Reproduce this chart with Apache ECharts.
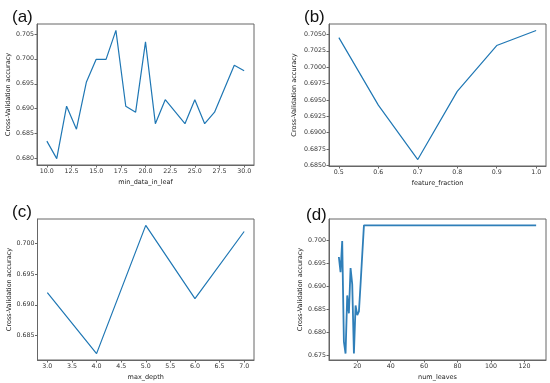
<!DOCTYPE html>
<html>
<head>
<meta charset="utf-8">
<script src="https://cdn.jsdelivr.net/npm/echarts@6/dist/echarts.min.js"></script>
<style>
html,body{margin:0;padding:0;background:#fff;}
#chart{width:550px;height:383px;}
</style>
</head>
<body>
<div id="chart"></div>
<script>
// ---- data ----
var minDataInLeaf = [10,11,12,13,14,15,16,17,18,19,20,21,22,23,24,25,26,27,28,29,30];
var accMinData = [0.6835,0.6800,0.6905,0.6859,0.6953,0.6999,0.6999,0.7057,0.6905,0.6893,0.7034,0.6870,0.6918,0.6894,0.6870,0.6918,0.6870,0.6893,0.6940,0.6987,0.6976];

var featureFraction = [0.5,0.6,0.7,0.8,0.9,1.0];
var accFeature = [0.7045,0.6942,0.6859,0.6963,0.7033,0.7056];

var maxDepth = [3,4,5,6,7];
var accDepth = [0.692,0.682,0.703,0.691,0.702];

var numLeaves = [9,10,11,12,13,14,15,16,17,18,19,20,21,22,23,24,127];
var accLeaves = [0.6964,0.6931,0.6999,0.6779,0.6753,0.6880,0.6841,0.6940,0.6904,0.6753,0.6858,0.6837,0.6845,0.6906,0.6970,0.7033,0.7033];

// ---- tick values ----
var ticksXa = [10,12.5,15,17.5,20,22.5,25,27.5,30];
var ticksYa = [0.680,0.685,0.690,0.695,0.700,0.705];
var ticksXb = [0.5,0.6,0.7,0.8,0.9,1.0];
var ticksYb = [0.6850,0.6875,0.6900,0.6925,0.6950,0.6975,0.7000,0.7025,0.7050];
var ticksXc = [3,3.5,4,4.5,5,5.5,6,6.5,7];
var ticksYc = [0.685,0.690,0.695,0.700];
var ticksXd = [20,40,60,80,100,120];
var ticksYd = [0.675,0.680,0.685,0.690,0.695,0.700];

var panelLabels = ['(a)','(b)','(c)','(d)'];
var xNames = ['min_data_in_leaf','feature_fraction','max_depth','num_leaves'];
var yName = 'Cross-Validation accuracy';

function pairs(xs, ys){ return xs.map(function(x,i){ return [x, ys[i]]; }); }
function limits(arr){
  var mn = Math.min.apply(null,arr), mx = Math.max.apply(null,arr);
  var m = (mx-mn)*0.05;
  return [mn-m, mx+m];
}

var FONT = 'DejaVu Sans';
var AX = '#666';

function xAxis(idx, ticks, xs, dec, gap){
  var lim = limits(xs);
  return {
    type:'value', gridIndex: idx, min: lim[0], max: lim[1],
    name: xNames[idx], nameLocation:'middle', nameGap: gap,
    nameTextStyle:{fontFamily:FONT,fontSize:6.5,color:'#222'},
    axisLine:{show:true,onZero:false,lineStyle:{color:AX,width:1}},
    axisTick:{show:true,inside:false,length:2.5,lineStyle:{color:AX},customValues:ticks},
    axisLabel:{fontFamily:FONT,fontSize:6.3,color:'#333',margin:3,customValues:ticks,
      formatter:function(v){return v.toFixed(dec);}},
    splitLine:{show:false}
  };
}
function yAxis(idx, ticks, ys, dec, gap){
  var lim = limits(ys);
  return {
    type:'value', gridIndex: idx, min: lim[0], max: lim[1],
    name: yName, nameLocation:'middle', nameGap: gap, nameRotate: 90,
    nameTextStyle:{fontFamily:FONT,fontSize:6.5,color:'#222'},
    axisLine:{show:true,onZero:false,lineStyle:{color:AX,width:1}},
    axisTick:{show:true,inside:false,length:2.5,lineStyle:{color:AX},customValues:ticks},
    axisLabel:{fontFamily:FONT,fontSize:6.3,color:'#333',margin:3,customValues:ticks,
      formatter:function(v){return v.toFixed(dec);}},
    splitLine:{show:false}
  };
}

var grids = [
  {left:37, top:24, width:217, height:141},
  {left:329, top:24, width:217, height:142},
  {left:37.5, top:219, width:216.5, height:141},
  {left:329, top:219, width:217, height:141}
].map(function(g){ g.show=true; g.borderColor=AX; g.borderWidth=1; g.backgroundColor='#fff'; g.containLabel=false; return g; });

var titlePos = [[7,4],[299,4],[7,199],[301,202]];

var option = {
  animation:false,
  backgroundColor:'#fff',
  title: panelLabels.map(function(t,i){
    return {text:t,left:titlePos[i][0],top:titlePos[i][1],
      textStyle:{fontFamily:'Liberation Sans',fontSize:17,fontWeight:'normal',color:'#111'}};
  }),
  grid: grids,
  xAxis:[
    xAxis(0,ticksXa,minDataInLeaf,1,14),
    xAxis(1,ticksXb,featureFraction,1,14),
    xAxis(2,ticksXc,maxDepth,1,14),
    xAxis(3,ticksXd,numLeaves,0,14)
  ],
  yAxis:[
    yAxis(0,ticksYa,accMinData,3,25),
    yAxis(1,ticksYb,accFeature,4,31),
    yAxis(2,ticksYc,accDepth,3,25),
    yAxis(3,ticksYd,accLeaves,3,25)
  ],
  series:[
    {type:'line',xAxisIndex:0,yAxisIndex:0,data:pairs(minDataInLeaf,accMinData),showSymbol:false,lineStyle:{color:'#1f77b4',width:1.2},itemStyle:{color:'#1f77b4'}},
    {type:'line',xAxisIndex:1,yAxisIndex:1,data:pairs(featureFraction,accFeature),showSymbol:false,lineStyle:{color:'#1f77b4',width:1.2},itemStyle:{color:'#1f77b4'}},
    {type:'line',xAxisIndex:2,yAxisIndex:2,data:pairs(maxDepth,accDepth),showSymbol:false,lineStyle:{color:'#1f77b4',width:1.2},itemStyle:{color:'#1f77b4'}},
    {type:'line',xAxisIndex:3,yAxisIndex:3,data:pairs(numLeaves,accLeaves),showSymbol:false,lineStyle:{color:'#2f7fb9',width:1.8},itemStyle:{color:'#1f77b4'}}
  ]
};

var chart = echarts.init(document.getElementById('chart'),null,{renderer:'canvas'});
chart.setOption(option);
</script>
</body>
</html>
